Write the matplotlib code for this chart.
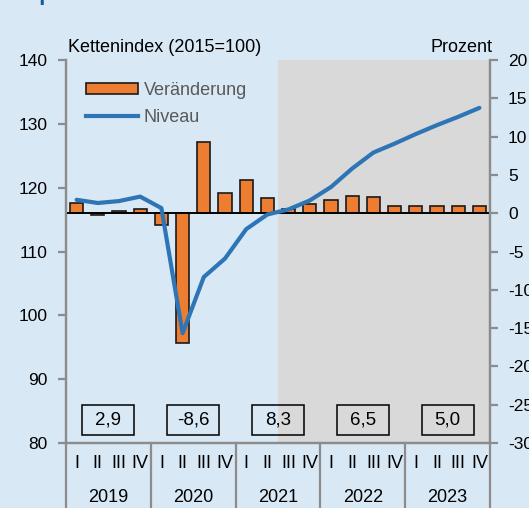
import matplotlib
matplotlib.use("Agg")
import matplotlib.pyplot as plt
from matplotlib.patches import Rectangle, Patch
from matplotlib.lines import Line2D
import matplotlib.transforms as mtrans

plt.rcParams['font.family'] = ['Liberation Sans', 'DejaVu Sans']

# ---- data ----
quarters = ['I', 'II', 'III', 'IV'] * 5
years = ['2019', '2020', '2021', '2022', '2023']
veraenderung = [1.3, -0.3, 0.3, 0.5,
                -1.5, -17.0, 9.3, 2.7,
                4.3, 2.0, 0.5, 1.2,
                1.7, 2.3, 2.1, 1.0,
                1.0, 1.0, 1.0, 1.0]
niveau = [118.1, 117.6, 117.9, 118.6,
          116.8, 97.2, 106.0, 108.9,
          113.5, 115.8, 116.6, 118.0,
          120.1, 123.0, 125.5, 126.9,
          128.4, 129.8, 131.1, 132.5]
annual = ['2,9', '-8,6', '8,3', '6,5', '5,0']
forecast_start = 10  # index of first forecast quarter (2021 Q3)

left_ticks = [80, 90, 100, 110, 120, 130, 140]
right_ticks = [-30, -25, -20, -15, -10, -5, 0, 5, 10, 15, 20]

# ---- style ----
BG = '#d9e8f5'
SHADE = '#d9d9d9'
ORANGE = '#ed7d31'
BLUE = '#2e75b6'
SPINE = '#8c8c8c'

W, H = 529, 508
fig = plt.figure(figsize=(W / 100, H / 100), dpi=100, facecolor=BG)
L, R, T, B = 66, 490, 60, 443
ax = fig.add_axes([L / W, 1 - B / H, (R - L) / W, (B - T) / H])
ax.set_facecolor(BG)
ax2 = ax.twinx()

n = len(veraenderung)
x = list(range(n))

# shading (forecast)
ax.axvspan(forecast_start - 0.5, n - 0.5, color=SHADE, zorder=0, lw=0)

# bars on percent scale
ax.bar(x, veraenderung, width=0.63, color=ORANGE, edgecolor='#1a1a1a',
       linewidth=1.2, zorder=2)
ax.axhline(0, color='black', lw=1.4, zorder=3)
ax.set_ylim(-30, 20)
ax.set_xlim(-0.5, n - 0.5)
ax.yaxis.tick_right()
ax.set_yticks(right_ticks)
ax.set_yticklabels([str(t) for t in right_ticks])

# line on index scale
ax2.plot(x, niveau, color=BLUE, lw=3, zorder=4, solid_capstyle='round')
ax2.set_ylim(80, 140)
ax2.yaxis.tick_left()
ax2.set_yticks(left_ticks)
ax2.set_yticklabels([str(t) for t in left_ticks])

for a in (ax, ax2):
    a.set_xticks([])
    a.spines['top'].set_visible(False)
    for s in ('left', 'right', 'bottom'):
        a.spines[s].set_color(SPINE)
        a.spines[s].set_linewidth(1.6)
    a.tick_params(axis='y', length=6, width=1.6, color=SPINE,
                  labelsize=12.5, pad=7, labelcolor='black')

# annual boxes
for k, lab in enumerate(annual):
    cx = 4 * k + 1.5
    ax2.add_patch(Rectangle((cx - 1.23, 81.3), 2.46, 4.7, fill=False,
                            edgecolor='black', lw=1.1, zorder=5))
    ax2.text(cx, 83.65, lab, ha='center', va='center', fontsize=13.5, zorder=6)

# category axis labels
trans = mtrans.blended_transform_factory(ax.transData, ax.transAxes)
narrow = ['Liberation Sans Narrow', 'Liberation Sans', 'DejaVu Sans']
for i, q in enumerate(quarters):
    ax.text(i, -(463 - B) / (B - T), q, transform=trans, ha='center',
            va='center', fontsize=13, family=narrow, clip_on=False)
for k, yr in enumerate(years):
    ax.text(4 * k + 1.5, -(497 - B) / (B - T), yr, transform=trans,
            ha='center', va='center', fontsize=13, family=narrow, clip_on=False)
for k in range(len(years) + 1):
    ax.plot([4 * k - 0.5, 4 * k - 0.5], [0, -(H - B + 5) / (B - T)],
            transform=trans, color=SPINE, lw=1.6, clip_on=False)

# axis titles
ax.text(0.005, (B - 48) / (B - T), 'Kettenindex (2015=100)', transform=ax.transAxes,
        ha='left', va='center', fontsize=13)
ax.text(1.005, (B - 48) / (B - T), 'Prozent', transform=ax.transAxes,
        ha='right', va='center', fontsize=13)

# legend
handles = [Patch(facecolor=ORANGE, edgecolor='#1a1a1a', linewidth=1.2),
           Line2D([0], [0], color=BLUE, lw=3)]
leg = ax2.legend(handles, ['Veränderung', 'Niveau'], loc='upper left',
                 bbox_to_anchor=((86 - L) / (R - L), (B - 82) / (B - T)),
                 frameon=False, fontsize=13, handlelength=2.9, handleheight=0.6,
                 handletextpad=0.3, labelspacing=0.55, borderpad=0, borderaxespad=0)
for t in leg.get_texts():
    t.set_color('#595959')

# truncated title at top
fig.text(12 / W, 1.0, 'Exporte', color='#1a5a96', fontsize=16,
         fontweight='bold', va='baseline', ha='left')

fig.savefig('out.png', dpi=100, facecolor=BG)
